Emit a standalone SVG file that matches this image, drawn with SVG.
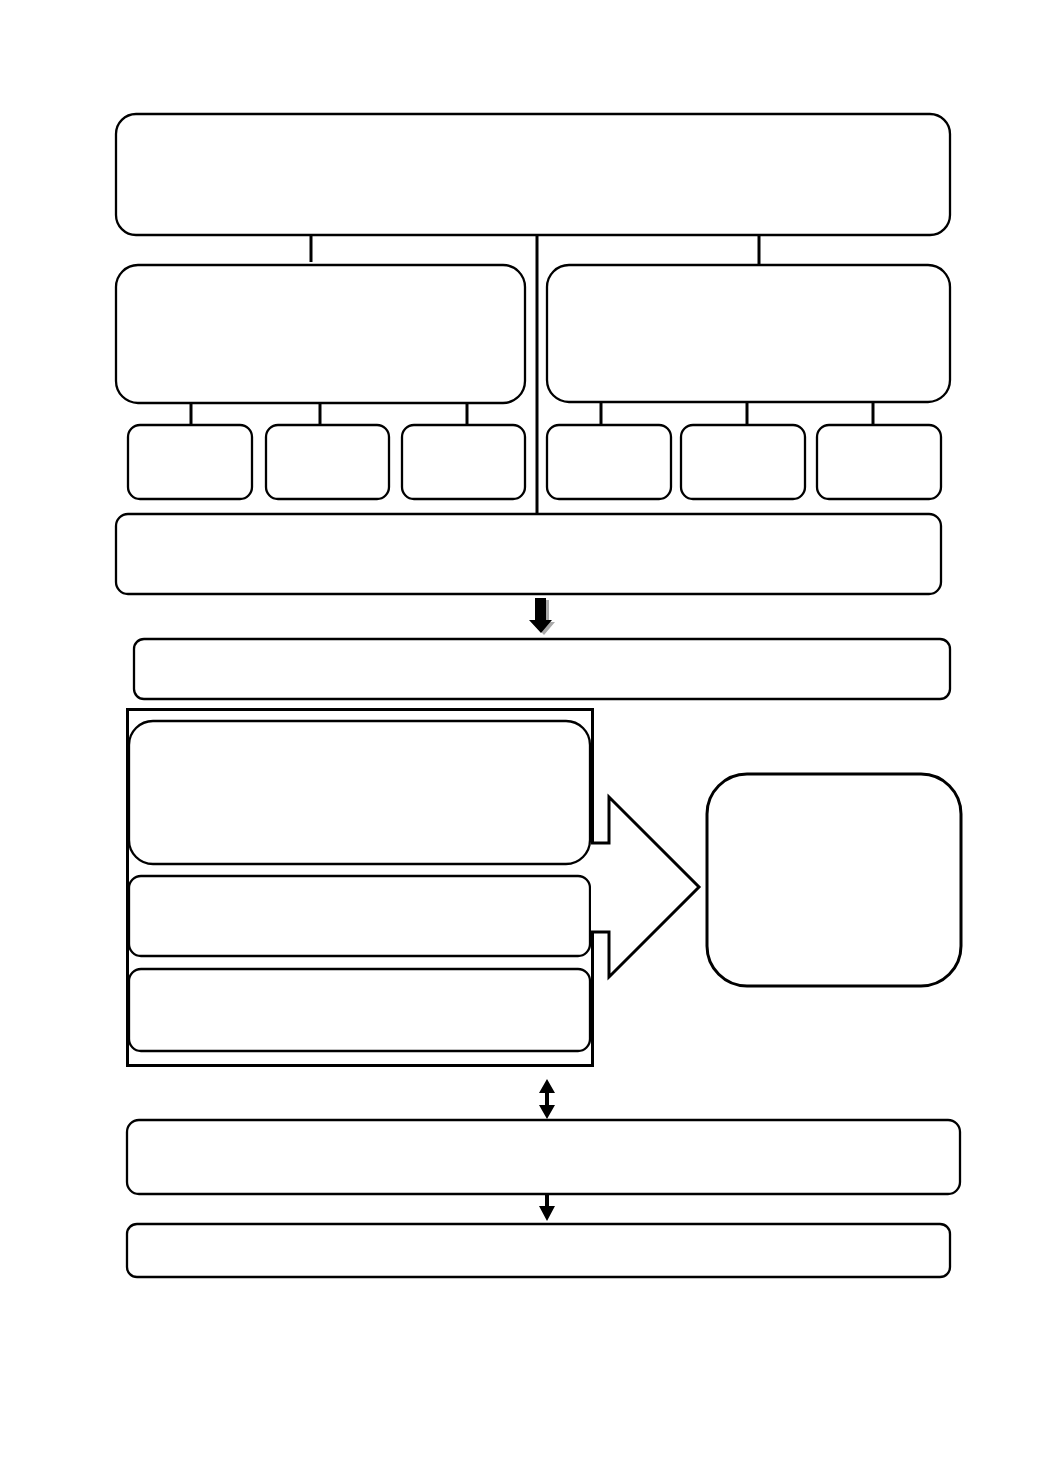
<svg xmlns="http://www.w3.org/2000/svg" width="1040" height="1471" viewBox="0 0 1040 1471">
<style>
.b{fill:#fff;stroke:#000;stroke-width:2.3}
.c{stroke:#000;stroke-width:3;fill:none}
.a{fill:#000;stroke:none}
</style>
<rect width="1040" height="1471" fill="#fff"/>
<g id="n1"><rect class="b" x="116" y="114" width="834" height="121" rx="20"/></g>
<g id="n2"><rect class="b" x="116" y="265" width="409" height="138" rx="22"/></g>
<g id="n3"><rect class="b" x="547" y="265" width="403" height="137" rx="22"/></g>
<g id="n4"><rect class="b" x="128" y="425" width="124" height="74" rx="12"/></g>
<g id="n5"><rect class="b" x="266" y="425" width="123" height="74" rx="12"/></g>
<g id="n6"><rect class="b" x="402" y="425" width="123" height="74" rx="12"/></g>
<g id="n7"><rect class="b" x="547" y="425" width="124" height="74" rx="12"/></g>
<g id="n8"><rect class="b" x="681" y="425" width="124" height="74" rx="12"/></g>
<g id="n9"><rect class="b" x="817" y="425" width="124" height="74" rx="12"/></g>
<g id="n10"><rect class="b" x="116" y="514" width="825" height="80" rx="12"/></g>
<g id="n11"><rect class="b" x="134" y="639" width="816" height="60" rx="10"/></g>
<g id="n12"><rect fill="none" stroke="#000" stroke-width="3" x="127.5" y="709.5" width="465" height="356"/></g>
<g id="n13"><rect class="b" x="129" y="721" width="461" height="143" rx="24"/></g>
<g id="n14"><rect class="b" x="129" y="876" width="461" height="80" rx="12"/></g>
<g id="n15"><rect class="b" x="129" y="969" width="461" height="82" rx="12"/></g>
<g id="n16"><rect fill="#fff" stroke="#000" stroke-width="3" x="707" y="774" width="254" height="212" rx="40"/></g>
<g id="n17"><rect class="b" x="127" y="1120" width="833" height="74" rx="12"/></g>
<g id="n18"><rect class="b" x="127" y="1224" width="823" height="53" rx="10"/></g>
<g id="connectors">
<line class="c" x1="537" y1="235" x2="537" y2="514"/>
<line class="c" x1="311" y1="235" x2="311" y2="262"/>
<line class="c" x1="759" y1="235" x2="759" y2="265"/>
<line class="c" x1="191" y1="403" x2="191" y2="425"/>
<line class="c" x1="320" y1="403" x2="320" y2="425"/>
<line class="c" x1="467" y1="403" x2="467" y2="425"/>
<line class="c" x1="601" y1="402" x2="601" y2="425"/>
<line class="c" x1="747" y1="402" x2="747" y2="425"/>
<line class="c" x1="873" y1="402" x2="873" y2="425"/>
<polygon fill="#aaa" points="538,600 549,600 549,622 555,622 544,635 532,622 538,622"/>
<polygon class="a" points="535,598 546,598 546,620 552,620 541,633 529,620 535,620"/>
<polygon class="a" points="547,1079 555,1093 549,1093 549,1105 555,1105 547,1119 539,1105 545,1105 545,1093 539,1093"/>
<polygon class="a" points="545,1194 549,1194 549,1206 555,1206 547,1221 539,1206 545,1206"/>
<path fill="#fff" stroke="#000" stroke-width="3" d="M591,843 H609 V797 L699,887 L609,977 V932 H591"/>
</g>
</svg>
